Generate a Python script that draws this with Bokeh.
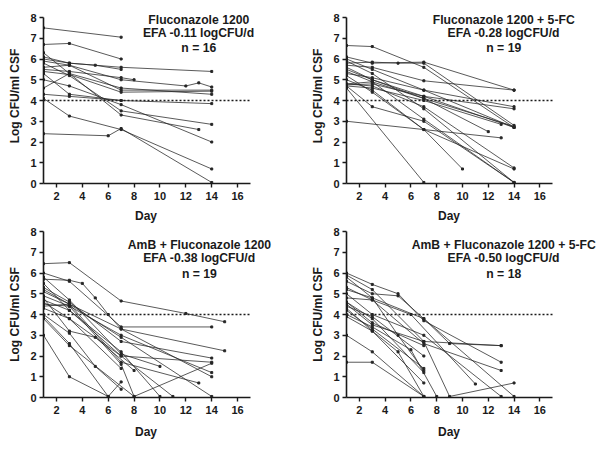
from bokeh.plotting import figure
from bokeh.layouts import column, row
from bokeh.models import FixedTicker, Label, Title
from bokeh.embed import file_html
from bokeh.resources import INLINE

# ---------------- data ----------------
x_min, x_max = 1, 17
y_min, y_max = 0, 8
x_ticks = [2, 4, 6, 8, 10, 12, 14, 16]
y_ticks = [0, 1, 2, 3, 4, 5, 6, 7, 8]
threshold = 4

titles_1 = ["Fluconazole 1200", "EFA -0.11 logCFU/d", "n = 16"]
titles_2 = ["Fluconazole 1200 + 5-FC", "EFA -0.28 logCFU/d", "n = 19"]
titles_3 = ["AmB + Fluconazole 1200", "EFA -0.38 logCFU/d", "n = 19"]
titles_4 = ["AmB + Fluconazole 1200 + 5-FC", "EFA -0.50 logCFU/d", "n = 18"]

p1_days = [[1, 7], [1, 3, 7], [1, 3, 7, 14], [1, 3, 7, 12, 13, 14], [1, 3, 7, 14],
           [1, 3, 7, 14], [1, 3, 7, 8], [1, 3, 7, 14], [1, 3, 7, 13], [1, 3, 7, 14],
           [1, 3, 7, 14], [1, 3, 7, 14], [1, 6, 7, 14], [1, 3, 7], [1, 3, 5, 7],
           [1, 3, 7, 14]]
p1_vals = [[7.5, 7.05], [6.7, 6.75, 6.0], [6.1, 5.8, 5.6, 5.4], [5.9, 5.7, 5.0, 4.7, 4.85, 4.65],
           [5.6, 5.7, 4.5, 4.5], [4.6, 5.3, 4.6, 4.3], [5.5, 5.4, 5.1, 5.0], [5.3, 4.3, 4.0, 3.85],
           [6.3, 5.3, 3.3, 2.6], [5.8, 5.2, 3.5, 2.85], [5.0, 4.7, 3.8, 2.0], [4.1, 3.25, 2.6, 0.7],
           [2.4, 2.3, 2.65, 0.05], [4.3, 4.2, 4.0], [6.0, 5.8, 5.7, 5.5], [5.4, 5.25, 4.4, 4.45]]

p2_days = [[1, 3, 7, 14], [1, 3, 7, 14], [1, 3, 5, 7, 14], [1, 3, 7, 14], [1, 3, 7, 14],
           [1, 3, 7, 14], [1, 3, 7, 14], [1, 3, 7, 14], [1, 3, 7, 13], [1, 3, 7, 14],
           [1, 3, 7, 14], [1, 3, 7, 10], [1, 3, 7, 14], [1, 3, 7, 14], [1, 7],
           [1, 13], [1, 3, 7, 14], [1, 3, 7, 14], [1, 3, 7, 12]]
p2_vals = [[6.65, 6.6, 5.6, 2.7], [6.1, 5.8, 5.85, 4.5], [5.8, 5.85, 5.8, 5.8, 2.8],
           [5.7, 5.6, 4.95, 4.5], [6.0, 5.5, 4.5, 3.7], [5.5, 5.0, 4.2, 3.6], [5.3, 5.1, 4.5, 2.7],
           [4.8, 4.9, 4.1, 2.75], [4.7, 4.6, 4.0, 2.85], [5.9, 5.3, 3.6, 0.05], [4.8, 4.7, 3.7, 0.75],
           [5.2, 4.4, 2.6, 0.7], [4.7, 3.7, 3.0, 0.05], [5.0, 4.5, 2.6, 0.7], [4.6, 0.05],
           [3.0, 2.2], [5.4, 4.9, 3.1, 0.05], [4.75, 4.8, 4.2, 2.7], [5.6, 5.0, 4.1, 2.5]]

p3_days = [[1, 3, 7, 12, 15], [1, 3, 4, 5, 6, 7, 14], [1, 3, 7, 14], [1, 3, 7, 15], [1, 3, 7, 14],
           [1, 3, 7, 14], [1, 3, 7, 11], [1, 3, 7, 10], [1, 3, 7, 14], [1, 3, 7],
           [1, 3, 6, 7], [1, 3, 8, 14], [1, 3, 7, 8], [1, 3, 5, 7], [1, 3, 7, 13],
           [1, 3, 7, 10], [1, 3, 7, 14], [1, 3, 5, 8], [1, 3, 6]]
p3_vals = [[6.45, 6.5, 4.65, 4.05, 3.65], [5.7, 5.65, 5.5, 4.8, 4.0, 3.3, 1.0], [6.0, 5.6, 3.4, 3.4],
           [5.1, 4.5, 3.3, 2.25], [5.3, 4.6, 2.7, 1.9], [4.5, 4.4, 3.0, 1.2], [5.5, 4.2, 2.0, 0.05],
           [4.7, 4.2, 2.2, 0.05], [5.2, 4.5, 2.9, 0.05], [4.3, 3.8, 1.4], [3.0, 1.0, 0.05, 0.75],
           [3.8, 2.5, 0.05, 1.65], [4.9, 4.4, 1.6, 0.05], [4.0, 3.1, 1.5, 0.4], [4.4, 4.5, 1.7, 0.7],
           [5.8, 4.7, 2.1, 1.5], [4.6, 3.8, 2.0, 1.7], [4.8, 3.2, 2.9, 1.3], [3.9, 2.6, 0.05]]

p4_days = [[1, 3, 5, 7, 13], [1, 3, 7, 13], [1, 3, 7, 9, 13], [1, 3, 7, 13], [1, 3, 6, 11],
           [1, 3, 5, 7, 14], [1, 3, 7, 9, 14], [1, 3, 7], [1, 3, 7], [1, 3, 7],
           [1, 3, 7], [1, 3, 7], [1, 3, 7], [1, 3, 5, 7], [1, 3, 7, 13],
           [1, 3, 5, 7], [1, 3, 6, 8], [1, 3, 7]]
p4_vals = [[6.0, 5.45, 5.0, 3.7, 1.7], [5.9, 5.2, 2.7, 2.5], [5.8, 4.8, 3.8, 2.6, 2.5],
           [4.8, 4.7, 2.6, 1.3], [5.3, 4.7, 4.0, 0.65], [5.6, 5.0, 4.9, 3.8, 0.05],
           [4.5, 3.5, 2.7, 0.05, 0.7], [4.4, 3.9, 2.0], [4.2, 3.3, 1.4], [4.6, 3.8, 1.2],
           [3.9, 3.2, 0.7], [1.7, 1.7, 0.05], [3.0, 2.2, 0.05], [4.3, 3.2, 2.2, 0.05],
           [5.0, 4.0, 3.0, 0.05], [5.2, 4.8, 3.0, 1.3], [4.0, 3.4, 2.3, 0.05], [4.6, 3.6, 2.5]]

title_y_top = [7.9, 7.23, 6.52]
title_y_bot = [7.37, 6.70, 5.97]

FONT = "Liberation Sans"
INK = "#1a1a1a"
PX_PER_DAY = 12.94


def make(days, vals, titles, tx, tys, width, height, left, right, top, bottom,
         day_standoff, head_px):
    frame_w = width - left - right
    frame_h = height - top - bottom
    x_end = x_min + frame_w / PX_PER_DAY          # room on the right for the texts
    y_end = y_max + head_px * (y_max - y_min) / (frame_h - head_px)  # room above for texts
    p = figure(width=width, height=height, x_range=(x_min, x_end), y_range=(y_min, y_end),
               output_backend="svg", toolbar_location=None,
               min_border_left=left, min_border_right=right,
               min_border_top=top, min_border_bottom=bottom)
    p.grid.visible = False
    p.outline_line_color = None
    p.background_fill_color = "white"
    p.border_fill_color = "white"

    for ax in (p.xaxis, p.yaxis):
        ax.axis_line_width = 1.6
        ax.axis_line_color = INK
        ax.major_tick_line_width = 1.4
        ax.major_tick_line_color = INK
        ax.major_tick_out = 4
        ax.major_tick_in = 0
        ax.minor_tick_line_color = None
        ax.major_label_text_font = FONT
        ax.major_label_text_font_style = "bold"
        ax.major_label_text_font_size = "11px"
        ax.major_label_text_color = INK
        ax.axis_label_text_font = FONT
        ax.axis_label_text_font_style = "bold"
        ax.axis_label_text_font_size = "12px"
        ax.axis_label_text_color = INK
    p.xaxis.ticker = FixedTicker(ticks=x_ticks)
    p.xaxis.bounds = (x_min, x_max)
    p.yaxis.ticker = FixedTicker(ticks=y_ticks)
    p.yaxis.bounds = (y_min, y_max)
    p.yaxis.axis_label = "Log CFU/ml CSF"
    p.xaxis.major_label_standoff = 4
    p.yaxis.major_label_standoff = 3
    p.yaxis.axis_label_standoff = 5

    # "Day" label centred under the bounded x axis (not the widened frame)
    day_center_px = (x_max - x_min) / 2 * PX_PER_DAY
    p.add_layout(Title(text="Day", align="left", offset=day_center_px - 12,
                       standoff=day_standoff, text_font=FONT, text_font_style="bold",
                       text_font_size="12px", text_color=INK), "below")

    p.segment(x0=[x_min], x1=[x_max], y0=[threshold], y1=[threshold], line_color=INK,
              line_dash="2 2", line_width=1.3)

    p.multi_line(xs=days, ys=vals, line_color="#262626", line_width=0.85, line_alpha=0.9)
    fx = [d for ds in days for d in ds]
    fy = [v for vs in vals for v in vs]
    p.scatter(fx, fy, marker="square", size=2.0, color="#262626")

    for t, ty in zip(titles, tys):
        p.add_layout(Label(x=tx, y=ty, text=t, text_align="center", text_baseline="middle",
                           text_font=FONT, text_font_style="bold", text_font_size="12.2px",
                           text_color=INK))
    return p


p1 = make(p1_days, p1_vals, titles_1, 13.0, title_y_top, 308, 227, 43, 6, 8, 44, 9, 9)
p2 = make(p2_days, p2_vals, titles_2, 13.2, title_y_top, 290, 227, 37, 2, 8, 44, 9, 9)
p3 = make(p3_days, p3_vals, titles_3, 13.05, title_y_bot, 308, 220, 43, 6, 4, 50, 12, 0)
p4 = make(p4_days, p4_vals, titles_4, 13.2, title_y_bot, 290, 220, 37, 2, 4, 50, 12, 0)

layout = column(row(p1, p2), row(p3, p4))
open("out.html", "w").write(file_html(layout, INLINE))
